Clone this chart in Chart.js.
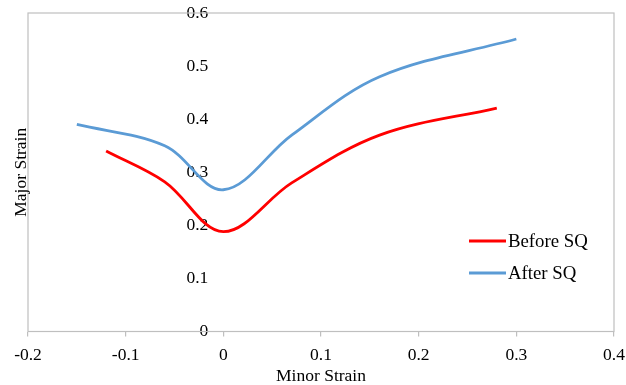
<!DOCTYPE html>
<html>
<head>
<meta charset="utf-8">
<script src="https://cdn.jsdelivr.net/npm/chart.js@4/dist/chart.umd.min.js"></script>
<style>
  html, body { margin: 0; padding: 0; background: #ffffff; }
  #wrap { width: 626px; height: 385px; position: relative; }
</style>
</head>
<body>
<div id="wrap"><canvas id="c" width="626" height="385"></canvas></div>
<script>
// ---- data ----
const seriesNames = ["Before SQ", "After SQ"];
const beforeMinor = [-0.12, -0.06, 0.0, 0.07, 0.16, 0.28];
const beforeMajor = [0.34, 0.282, 0.188, 0.28, 0.37, 0.421];
const afterMinor  = [-0.15, -0.06, 0.0, 0.07, 0.16, 0.30];
const afterMajor  = [0.39, 0.35, 0.267, 0.37, 0.48, 0.551];
const xTicks = [-0.2, -0.1, 0, 0.1, 0.2, 0.3, 0.4];
const yTicks = [0, 0.1, 0.2, 0.3, 0.4, 0.5, 0.6];
const xTitle = "Minor Strain";
const yTitle = "Major Strain";

const FONT = "'Liberation Serif', 'Times New Roman', serif";
const FS = 17.5;
const LEGEND_FS = 18.8;
const Y_LABEL_GAP = 15; // px between y tick labels and the x=0 crossing

function pts(xs, ys) { return xs.map((x, i) => ({ x: x, y: ys[i] })); }

const borderPlugin = {
  id: 'plotBorder',
  beforeDatasetsDraw(chart) {
    const a = chart.chartArea, ctx = chart.ctx;
    ctx.save();
    ctx.strokeStyle = '#bfbfbf';
    ctx.lineWidth = 1.2;
    ctx.strokeRect(a.left, a.top, a.right - a.left, a.bottom - a.top);
    ctx.restore();
  }
};

const extrasPlugin = {
  id: 'extras',
  afterDraw(chart) {
    const ctx = chart.ctx;
    const a = chart.chartArea;
    ctx.save();
    // y axis title
    ctx.fillStyle = '#000';
    ctx.font = FS + 'px ' + FONT;
    ctx.translate(26, (a.top + a.bottom) / 2);
    ctx.rotate(-Math.PI / 2);
    ctx.textAlign = 'center';
    ctx.textBaseline = 'alphabetic';
    ctx.fillText(yTitle, 0, 0);
    ctx.restore();
    // legend inside plot area
    ctx.save();
    ctx.font = LEGEND_FS + 'px ' + FONT;
    ctx.textBaseline = 'middle';
    ctx.textAlign = 'left';
    const ys = [241, 273];
    chart.data.datasets.forEach((ds, i) => {
      ctx.strokeStyle = ds.borderColor;
      ctx.lineWidth = 3;
      ctx.beginPath();
      ctx.moveTo(469, ys[i]);
      ctx.lineTo(506, ys[i]);
      ctx.stroke();
      ctx.fillStyle = '#000';
      ctx.fillText(ds.label, 508, ys[i] + 1);
    });
    ctx.restore();
  }
};

new Chart(document.getElementById('c'), {
  type: 'scatter',
  data: {
    datasets: [
      { label: seriesNames[0], data: pts(beforeMinor, beforeMajor), showLine: true,
        borderColor: '#ff0000', backgroundColor: '#ff0000', borderWidth: 2.8,
        pointRadius: 0, tension: 0.35, fill: false },
      { label: seriesNames[1], data: pts(afterMinor, afterMajor), showLine: true,
        borderColor: '#5b9bd5', backgroundColor: '#5b9bd5', borderWidth: 2.8,
        pointRadius: 0, tension: 0.35, fill: false }
    ]
  },
  options: {
    responsive: false,
    animation: false,
    devicePixelRatio: 1,
    layout: { padding: { left: 28, right: 12, top: 13, bottom: 0 } },
    plugins: { legend: { display: false }, tooltip: { enabled: false } },
    scales: {
      x: {
        type: 'linear', position: 'bottom',
        min: xTicks[0], max: xTicks[xTicks.length - 1],
        afterBuildTicks(s) { s.ticks = xTicks.map(v => ({ value: v })); },
        afterFit(s) { s.height = 53.5; s.paddingLeft = 0; s.paddingRight = 0; },
        ticks: {
          color: '#000', font: { family: FONT, size: FS }, padding: 8,
          maxRotation: 0, autoSkip: false,
          callback: v => (Math.abs(v) < 1e-9 ? '0' : (+v).toFixed(1))
        },
        grid: { display: true, drawOnChartArea: false, drawTicks: true, tickLength: 5, color: '#bfbfbf', lineWidth: 1.2 },
        border: { display: false },
        title: { display: true, text: xTitle, color: '#000',
                 font: { family: FONT, size: FS, lineHeight: 1.0 }, padding: { top: 3, bottom: 0 } }
      },
      y: {
        type: 'linear', position: { x: 0 },
        min: yTicks[0], max: yTicks[yTicks.length - 1],
        afterBuildTicks(s) { s.ticks = yTicks.map(v => ({ value: v })); },
        afterFit(s) { s.paddingTop = 0; s.paddingBottom = 0; },
        ticks: {
          color: '#000', font: { family: FONT, size: FS }, padding: 0,
          callback: v => (Math.abs(v) < 1e-9 ? '0' : (+v).toFixed(1))
        },
        grid: { display: false },
        border: { display: false }
      }
    }
  },
  plugins: [
    {
      id: 'yLabelGap',
      afterLayout(chart) {
        // shift the crossing-axis labels left of the x=0 crossing by a fixed gap
        const y = chart.scales.y;
        const orig = y._computeLabelItems.bind(y);
        y._computeLabelItems = function (ca) {
          const items = orig(ca);
          items.forEach(it => { it.options.translation[0] -= Y_LABEL_GAP; });
          return items;
        };
      }
    },
    borderPlugin, extrasPlugin
  ]
});
</script>
</body>
</html>
